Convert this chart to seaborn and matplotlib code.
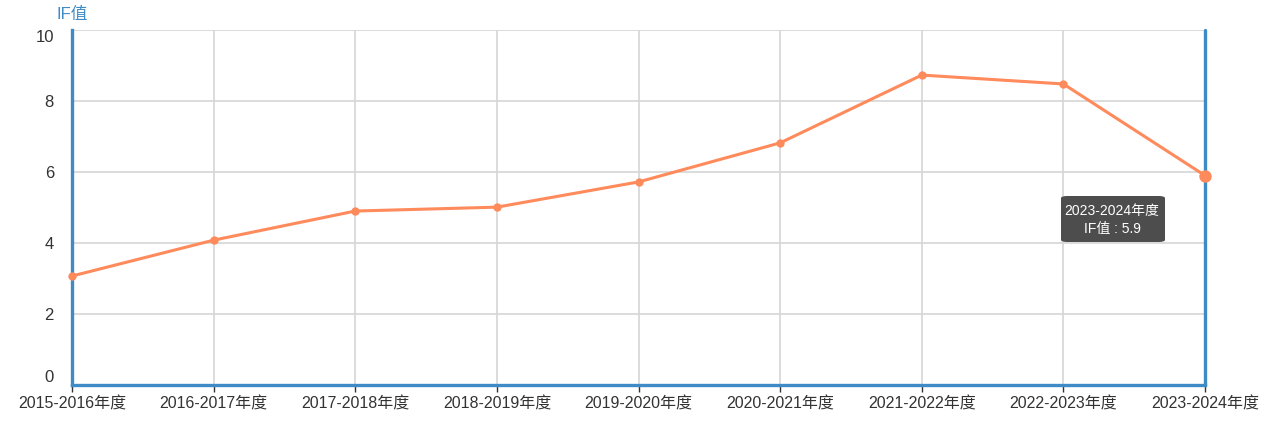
import matplotlib
matplotlib.use("Agg")
import matplotlib.pyplot as plt
import seaborn as sns
import pandas as pd
from matplotlib.patches import FancyBboxPatch

categories = ["2015-2016年度", "2016-2017年度", "2017-2018年度", "2018-2019年度",
              "2019-2020年度", "2020-2021年度", "2021-2022年度", "2022-2023年度",
              "2023-2024年度"]
if_values = [3.07, 4.08, 4.9, 5.01, 5.72, 6.82, 8.73, 8.48, 5.9]
y_ticks = [0, 2, 4, 6, 8, 10]
y_label = "IF值"
series_name = "IF值"
highlight_index = 8

sns.set_theme(style="white")
plt.rcParams['font.family'] = ['Liberation Sans', 'Noto Sans CJK SC', 'DejaVu Sans']

df = pd.DataFrame({"x": range(len(categories)), "y": if_values})

fig = plt.figure(figsize=(12.69, 4.29), dpi=100)
ax = fig.add_axes([72/1269, 1-385/429, (1205-72)/1269, (385-30)/429])

line_color = "#FF8A5B"
axis_color = "#3E8BC6"
grid_color = "#D6D6D6"

sns.lineplot(data=df, x="x", y="y", ax=ax, color=line_color, linewidth=2.2,
             marker="o", markersize=6, markeredgewidth=0, zorder=9, clip_on=False)
ax.scatter([highlight_index], [if_values[highlight_index]], s=80, color=line_color,
           zorder=10, linewidths=0, clip_on=False)

ax.set_xlim(0, len(categories) - 1)
ax.set_ylim(0, 10)
ax.set_xticks(range(len(categories)))
ax.set_xticklabels(categories, fontsize=11.5, color="#333333")
ax.set_yticks(y_ticks)
ax.set_yticklabels([str(v) for v in y_ticks], fontsize=12, color="#333333")
ylabels = ax.get_yticklabels()
ylabels[0].set_va("bottom")
ylabels[-1].set_va("top")
ax.set_xlabel("")
ax.set_ylabel("")

for v in y_ticks:
    ax.axhline(v, color=grid_color, linewidth=1.2, zorder=1)
for i in range(len(categories)):
    ax.axvline(i, color=grid_color, linewidth=1.2, zorder=1)

for s in ["top", "right"]:
    ax.spines[s].set_visible(False)
ax.spines["left"].set_color(axis_color)
ax.spines["left"].set_linewidth(2.4)
ax.spines["bottom"].set_color(axis_color)
ax.spines["bottom"].set_linewidth(2.4)
ax.spines["left"].set_zorder(7)
ax.spines["bottom"].set_zorder(7)

# axis pointer at hovered category
ax.axvline(highlight_index, color=axis_color, linewidth=2.4, zorder=7, clip_on=False)

ax.tick_params(axis="x", which="both", bottom=True, length=5, width=1,
               color="#333333", pad=3)
ax.tick_params(axis="y", which="both", left=False, pad=7)

fig.text(57/1269, 1-14/429, y_label, color=axis_color, fontsize=12,
         ha="left", va="center")

# tooltip
tx = 1112/1269
box = FancyBboxPatch((1061/1269, 1-242/429), 104/1269, 46/429,
                     boxstyle="round,pad=0,rounding_size=0.005",
                     transform=fig.transFigure, facecolor="#4D4D4D",
                     edgecolor="none", zorder=10)
fig.patches.append(box)
fig.text(tx, 1-211/429, categories[highlight_index], color="white", fontsize=10,
         ha="center", va="center", zorder=11)
fig.text(tx, 1-229/429, f"{series_name} : {if_values[highlight_index]}",
         color="white", fontsize=10, ha="center", va="center", zorder=11)

fig.savefig("out.png", dpi=100)
